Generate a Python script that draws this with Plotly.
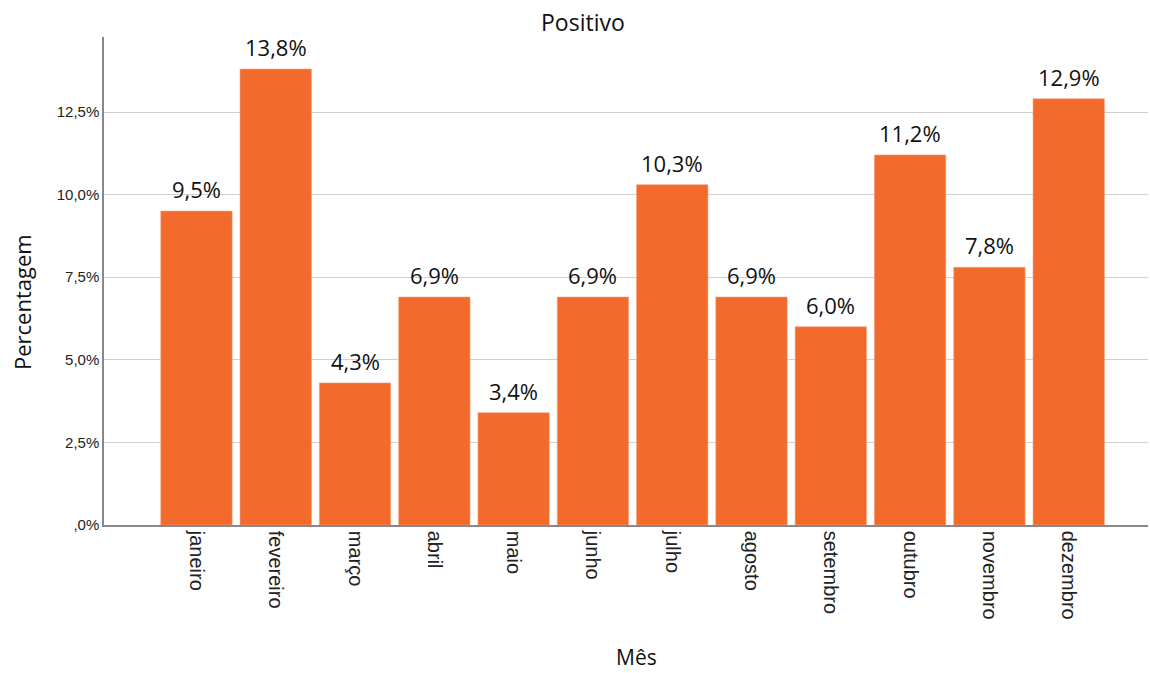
import plotly.graph_objects as go

months = ["janeiro", "fevereiro", "março", "abril", "maio", "junho",
          "julho", "agosto", "setembro", "outubro", "novembro", "dezembro"]
values = [9.5, 13.8, 4.3, 6.9, 3.4, 6.9, 10.3, 6.9, 6.0, 11.2, 7.8, 12.9]
labels = ["9,5%", "13,8%", "4,3%", "6,9%", "3,4%", "6,9%",
          "10,3%", "6,9%", "6,0%", "11,2%", "7,8%", "12,9%"]
y_tickvals = [0, 2.5, 5, 7.5, 10, 12.5]
y_ticktext = [",0%", "2,5%", "5,0%", "7,5%", "10,0%", "12,5%"]

fig = go.Figure(go.Bar(
    x=months, y=values,
    marker=dict(color="#F26A2C", line=dict(color="#F6A07A", width=0.6)),
    hoverinfo="x+y",
))

annotations = []
for m, v, t in zip(months, values, labels):
    annotations.append(dict(
        x=m, y=v, xref="x", yref="y", text=t, showarrow=False,
        yanchor="bottom", yshift=5,
        font=dict(size=22, color="#111111", family="Open Sans"),
    ))

annotations.append(dict(
    text="Percentagem", xref="paper", yref="paper", x=-0.0785, y=0.457,
    xanchor="center", yanchor="middle", textangle=-90, showarrow=False,
    font=dict(size=22, color="#111111", family="Open Sans"),
))
annotations.append(dict(
    text="Mês", xref="paper", yref="paper", x=0.5105, y=-0.270,
    xanchor="center", yanchor="middle", showarrow=False,
    font=dict(size=21, color="#111111", family="Open Sans"),
))
annotations.append(dict(
    text="Positivo", xref="paper", yref="paper", x=0.459, y=1.0+15/488,
    xanchor="center", yanchor="middle", showarrow=False,
    font=dict(size=23, color="#111111", family="Open Sans"),
))

fig.update_layout(
    width=1150, height=673,
    margin=dict(l=104, r=2, t=37, b=148),
    paper_bgcolor="white", plot_bgcolor="white",
    bargap=0.1,
    showlegend=False,
    annotations=annotations,
    font=dict(family="Liberation Sans", color="#222222"),
)
fig.update_xaxes(
    range=[-1.166, 12.0], tickangle=90,
    tickfont=dict(size=20, family="Liberation Sans", color="#222222"),
    showline=True, linecolor="#888888", linewidth=1.5,
    ticks="", showgrid=False, automargin=False,
)
fig.update_yaxes(
    range=[0, 14.77], tickvals=y_tickvals, ticktext=y_ticktext,
    tickfont=dict(size=15, family="Liberation Sans", color="#222222"),
    showline=True, linecolor="#888888", linewidth=1.5,
    showgrid=True, gridcolor="#D0D0D0", gridwidth=1.2, zeroline=False,
    ticks="", ticklen=0, automargin=False,
)

fig.write_html("out.html")
